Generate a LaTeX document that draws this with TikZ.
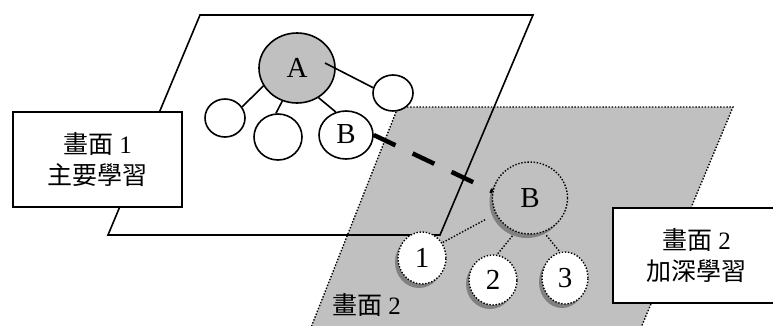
\documentclass[tikz,border=0pt]{standalone}
\usepackage{fontspec}
\setmainfont{Liberation Serif}
\newfontfamily\cjk{Noto Sans CJK TC}
\usetikzlibrary{shapes.geometric,shadows}
\definecolor{panelgray}{HTML}{C0C0C0}
\definecolor{shadowgray}{HTML}{808080}

\begin{document}
\begin{tikzpicture}[x=1pt,y=-1pt,
  frame/.style={line width=1.6pt},
  dotline/.style={line width=1.4pt, dash pattern=on 1.4pt off 1.7pt},
  bubble/.style={ellipse, draw, line width=1.6pt, fill=white, inner sep=0pt,
    font=\fontsize{29}{30}\selectfont},
  subbubble/.style={bubble, dotline,
    drop shadow={shadow xshift=-3pt, shadow yshift=-4pt, fill=shadowgray, opacity=1}},
  textbox/.style={draw, frame, fill=white, align=center, inner sep=0pt,
    font=\fontsize{25}{31}\selectfont},
  bridge/.style={line width=4.5pt, dash pattern=on 24pt off 19pt}
]
\useasboundingbox (0,0) rectangle (773,325);
\clip (0,0) rectangle (773,325);

% screen 1: white sheet
\path[fill=white] (200,15) -- (533,15) -- (440,235) -- (108,235) -- cycle;
% screen 2: grey sheet with dotted border
\path[fill=panelgray] (398,107) -- (733,107) -- (638,335) -- (308,335) -- cycle;
\draw[dotline] (308,335) -- (398,107) -- (733,107) -- (638,335);
% outline of screen 1 on top
\draw[frame, line join=miter] (200,15) -- (533,15) -- (440,235) -- (108,235) -- cycle;

% main tree on screen 1
\node[bubble, fill=panelgray, minimum width=76pt, minimum height=70pt] (A) at (297,68) {\raisebox{-7pt}{A}};
\node[bubble, minimum width=40pt, minimum height=38pt] (L) at (225,118) {};
\node[bubble, minimum width=48pt, minimum height=46pt] (M) at (278,137) {};
\node[bubble, minimum width=54pt, minimum height=48pt] (B) at (346,135) {\raisebox{3pt}{B}};
\node[bubble, minimum width=40pt, minimum height=36pt] (R) at (393,93) {};
\coordinate (Ain) at (325,63);
\draw[frame] (A.208) -- (L.33);
\draw[frame] (A.246) -- (M.95);
\draw[frame] (A.306) -- (B.114);
\draw[frame] (Ain) -- (R.165);

% detail tree on screen 2
\node[subbubble, fill=panelgray, minimum width=75pt, minimum height=72pt] (B2) at (530,198) {\raisebox{-7pt}{B}};
\node[subbubble, minimum width=48pt, minimum height=52pt] (n1) at (422,258) {\raisebox{-7pt}{1}};
\node[subbubble, minimum width=48pt, minimum height=50pt] (n2) at (493,280) {\raisebox{-10pt}{2}};
\node[subbubble, minimum width=46pt, minimum height=52pt] (n3) at (565,278) {\raisebox{-12pt}{3}};
\draw[dotline, shorten <=12pt] (B2.205) -- (n1.37);
\draw[dotline, shorten <=5pt] (B2.247) -- (n2.81);
\draw[dotline, shorten <=4pt] (B2.292) -- (n3.101);

% link between B and its expansion
\draw[bridge] (B.east) -- (B2.170);

% captions
\node[textbox, minimum width=169pt, minimum height=95pt] (box1) at (97.5,159.5)
  {{\cjk 畫面} 1\\{\cjk 主要學習}};
\node[textbox, minimum width=167pt, minimum height=95pt] (box2) at (696.5,255.5)
  {{\cjk 畫面} 2\\{\cjk 加深學習}};
\node[anchor=west, inner sep=0pt, font=\fontsize{25}{30}\selectfont] (lbl) at (332,305)
  {{\cjk 畫面} 2};
\end{tikzpicture}
\end{document}
